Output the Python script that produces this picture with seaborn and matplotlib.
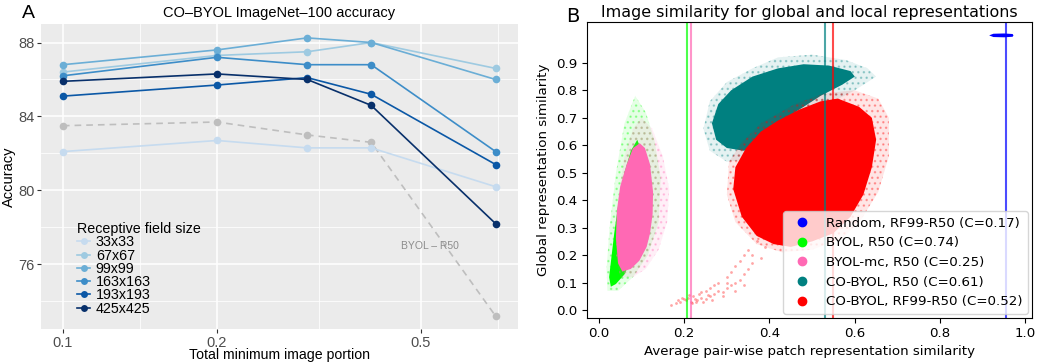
import matplotlib
matplotlib.use("Agg")
import matplotlib.pyplot as plt
from matplotlib.lines import Line2D
from matplotlib.colors import to_rgba
from matplotlib.ticker import FixedLocator, FixedFormatter, NullFormatter
import numpy as np
import pandas as pd
import seaborn as sns

# ---- panel A data ----
portion = [0.1, 0.2, 0.3, 0.4, 0.7]
rf_sizes = ["33x33", "67x67", "99x99", "163x163", "193x193", "425x425"]
acc = {
    "33x33":   [82.1, 82.7, 82.3, 82.3, 80.2],
    "67x67":   [86.4, 87.3, 87.5, 88.0, 86.6],
    "99x99":   [86.8, 87.6, 88.25, 88.0, 86.0],
    "163x163": [86.2, 87.2, 86.8, 86.8, 82.1],
    "193x193": [85.1, 85.7, 86.1, 85.2, 81.4],
    "425x425": [85.9, 86.3, 86.0, 84.6, 78.2],
}
byol_acc = [83.5, 83.7, 83.0, 82.6, 73.2]
blues = ["#c6dbef", "#9ecae1", "#6baed6", "#3d8dc8", "#0b58a6", "#08306b"]

# ---- panel B data: cloud outlines (x, y) ----
green_halo_x = [0.085, 0.11, 0.13, 0.145, 0.14, 0.115, 0.08, 0.045, 0.02, 0.018, 0.025, 0.04, 0.06]
green_halo_y = [0.78, 0.72, 0.62, 0.48, 0.32, 0.2, 0.12, 0.07, 0.07, 0.15, 0.3, 0.5, 0.68]
green_core_x = [0.09, 0.10, 0.11, 0.10, 0.08, 0.06, 0.04, 0.028, 0.024, 0.030, 0.036, 0.045, 0.06, 0.075]
green_core_y = [0.62, 0.58, 0.45, 0.30, 0.20, 0.13, 0.095, 0.085, 0.12, 0.20, 0.28, 0.38, 0.50, 0.58]
pink_halo_x = [0.1, 0.125, 0.15, 0.165, 0.16, 0.14, 0.11, 0.08, 0.05, 0.04, 0.045, 0.06, 0.08]
pink_halo_y = [0.7, 0.66, 0.56, 0.44, 0.32, 0.22, 0.15, 0.12, 0.12, 0.2, 0.4, 0.56, 0.66]
pink_core_x = [0.096, 0.108, 0.12, 0.127, 0.126, 0.12, 0.112, 0.095, 0.075, 0.055, 0.045, 0.040, 0.042, 0.05, 0.065, 0.08]
pink_core_y = [0.607, 0.59, 0.53, 0.43, 0.35, 0.28, 0.23, 0.18, 0.15, 0.14, 0.17, 0.26, 0.36, 0.45, 0.53, 0.59]
teal_halo_x = [0.245, 0.26, 0.30, 0.36, 0.42, 0.50, 0.58, 0.63, 0.65, 0.60, 0.50, 0.42, 0.36, 0.30, 0.26]
teal_halo_y = [0.66, 0.76, 0.83, 0.88, 0.92, 0.93, 0.91, 0.88, 0.85, 0.80, 0.72, 0.60, 0.55, 0.54, 0.58]
teal_core_x = [0.265, 0.28, 0.31, 0.36, 0.42, 0.48, 0.54, 0.59, 0.60, 0.57, 0.52, 0.46, 0.42, 0.38, 0.34, 0.30, 0.275]
teal_core_y = [0.68, 0.75, 0.80, 0.85, 0.88, 0.895, 0.89, 0.87, 0.85, 0.82, 0.78, 0.72, 0.66, 0.60, 0.58, 0.59, 0.62]
red_halo_x = [0.30, 0.305, 0.335, 0.38, 0.46, 0.53, 0.60, 0.655, 0.68, 0.68, 0.655, 0.615, 0.57, 0.50, 0.43, 0.37, 0.32]
red_halo_y = [0.42, 0.54, 0.61, 0.68, 0.75, 0.79, 0.80, 0.77, 0.70, 0.56, 0.43, 0.33, 0.26, 0.22, 0.21, 0.24, 0.32]
red_core_x = [0.315, 0.32, 0.345, 0.38, 0.42, 0.47, 0.52, 0.56, 0.61, 0.64, 0.65, 0.64, 0.62, 0.59, 0.55, 0.50, 0.45, 0.41, 0.37, 0.335]
red_core_y = [0.44, 0.52, 0.59, 0.65, 0.69, 0.73, 0.76, 0.77, 0.74, 0.70, 0.62, 0.52, 0.42, 0.34, 0.28, 0.25, 0.23, 0.24, 0.27, 0.34]
red_tail_x = [0.17, 0.18, 0.19, 0.20, 0.205, 0.21, 0.215, 0.22, 0.225, 0.23, 0.24, 0.25, 0.26, 0.27, 0.28, 0.29, 0.30, 0.31,
              0.32, 0.33, 0.34, 0.35, 0.36, 0.30, 0.32, 0.34, 0.28, 0.31, 0.25, 0.35, 0.33, 0.37, 0.36, 0.29, 0.27,
              0.195, 0.212, 0.228, 0.235, 0.245, 0.255, 0.265, 0.185, 0.218, 0.24, 0.26, 0.3, 0.32, 0.34, 0.38, 0.39]
red_tail_y = [0.02, 0.025, 0.03, 0.04, 0.035, 0.045, 0.03, 0.05, 0.04, 0.035, 0.045, 0.04, 0.05, 0.06, 0.07, 0.065, 0.08, 0.09,
              0.10, 0.11, 0.13, 0.15, 0.17, 0.12, 0.16, 0.20, 0.10, 0.14, 0.07, 0.22, 0.18, 0.25, 0.20, 0.05, 0.09,
              0.045, 0.055, 0.03, 0.06, 0.03, 0.055, 0.035, 0.035, 0.025, 0.065, 0.08, 0.1, 0.07, 0.09, 0.19, 0.23]
random_x = [0.915, 0.925, 0.95, 0.97, 0.972, 0.97, 0.95, 0.925]
random_y = [1.0, 1.006, 1.007, 1.005, 1.0, 0.995, 0.993, 0.994]

models = ["Random, RF99-R50 (C=0.17)", "BYOL, R50 (C=0.74)", "BYOL-mc, R50 (C=0.25)",
          "CO-BYOL, R50 (C=0.61)", "CO-BYOL, RF99-R50 (C=0.52)"]
model_colors = ["#0000ff", "#00ff00", "#ff69b4", "#008080", "#ff0000"]
patch_means = [0.955, 0.207, 0.215, 0.529, 0.548]

plt.rcParams["hatch.linewidth"] = 1.0
fig = plt.figure(figsize=(10.37, 3.64), dpi=100)

# ================= panel A (ggplot look) =================
axA = fig.add_axes([0.0395, 0.095, 0.46, 0.839])
axA.set_facecolor("#ebebeb")
for s in axA.spines.values():
    s.set_visible(False)

rows = []
for rf in rf_sizes:
    for p, a in zip(portion, acc[rf]):
        rows.append({"portion": p, "acc": a, "rf": rf})
df = pd.DataFrame(rows)
df_byol = pd.DataFrame({"portion": portion, "acc": byol_acc})

sns.lineplot(data=df_byol, x="portion", y="acc", color="#bebebe", linestyle=(0, (4, 3)),
             marker="o", markersize=5.5, markeredgewidth=0, linewidth=1.2, ax=axA, zorder=3)
sns.lineplot(data=df, x="portion", y="acc", hue="rf", hue_order=rf_sizes, palette=blues,
             marker="o", markersize=5.5, markeredgewidth=0, linewidth=1.2, ax=axA, zorder=4)

axA.set_xscale("log")
axA.set_xlim(0.0906, 0.774)
axA.set_ylim(72.48, 89.0)
axA.xaxis.set_major_locator(FixedLocator([0.1, 0.2, 0.5]))
axA.xaxis.set_minor_locator(FixedLocator([0.1414, 0.3162, 0.7071]))
axA.xaxis.set_major_formatter(FixedFormatter(["0.1", "0.2", "0.5"]))
axA.xaxis.set_minor_formatter(NullFormatter())
axA.yaxis.set_major_locator(FixedLocator([76, 80, 84, 88]))
axA.yaxis.set_minor_locator(FixedLocator([74, 78, 82, 86]))
axA.grid(which="major", color="white", linewidth=1.1)
axA.grid(which="minor", color="white", linewidth=0.55)
axA.set_axisbelow(True)
axA.tick_params(which="major", length=3, color="#333333", labelcolor="#4d4d4d",
                labelsize=10.5, pad=1.5)
axA.tick_params(which="minor", length=0)
for lab in axA.get_xticklabels() + axA.get_yticklabels():
    lab.set_family("Liberation Sans")
axA.set_xlabel("Total minimum image portion", family="Liberation Sans", fontsize=10.2)
axA.xaxis.set_label_coords(0.5, -0.062)
axA.set_ylabel("Accuracy", family="Liberation Sans", fontsize=10.5, labelpad=2)
axA.set_title("CO\u2013BYOL ImageNet\u2013100 accuracy", family="Liberation Sans", fontsize=10.5, pad=5)
axA.text(0.52, 77.0, "BYOL \u2013 R50", family="Liberation Sans", fontsize=7.5, color="#8c8c8c",
         ha="center", va="center")

handles = [Line2D([], [], color=c, marker="o", markersize=5, markeredgewidth=0, linewidth=1.2)
           for c in blues]
legA = axA.legend(handles, rf_sizes, title="Receptive field size", loc="lower left",
                  bbox_to_anchor=(0.055, 0.012), frameon=False, handlelength=0.9,
                  handletextpad=0.4, labelspacing=-0.05, borderpad=0.2, alignment="left",
                  prop={"family": "Liberation Sans", "size": 10.3},
                  title_fontproperties={"family": "Liberation Sans", "size": 10.3})
fig.text(0.021, 0.962, "A", fontsize=14, family="Liberation Sans", va="center")

# ================= panel B (matplotlib default look) =================
axB = fig.add_axes([0.566, 0.127, 0.429, 0.812])
fs = 9.6
clouds = [
    (green_halo_x, green_halo_y, green_core_x, green_core_y, "#00ff00"),
    (pink_halo_x, pink_halo_y, pink_core_x, pink_core_y, "#ff69b4"),
    (teal_halo_x, teal_halo_y, teal_core_x, teal_core_y, "#008080"),
    (red_halo_x, red_halo_y, red_core_x, red_core_y, "#ff0000"),
]
for hx, hy, cx, cy, c in clouds:
    # sparse fringe: faint fill with a dotted hatch, then the dense core
    axB.fill(hx, hy, facecolor=to_rgba(c, 0.1), edgecolor=to_rgba(c, 0.3),
             hatch="...", linewidth=0)
    axB.fill(cx, cy, color=c, linewidth=0)
axB.fill(random_x, random_y, color="#0000ff", linewidth=0)
sns.scatterplot(x=red_tail_x, y=red_tail_y, color="#ff0000", alpha=0.35, s=4, linewidth=0, ax=axB)

for m, c in zip(patch_means, model_colors):
    axB.axvline(m, color=c, alpha=0.7, linewidth=1.5)

axB.set_xlim(-0.028, 1.015)
axB.set_ylim(-0.028, 1.048)
axB.set_xticks([0.0, 0.2, 0.4, 0.6, 0.8, 1.0])
axB.set_yticks(np.round(np.arange(0, 1.0, 0.1), 1))
axB.tick_params(labelsize=fs)
axB.set_xlabel("Average pair-wise patch representation similarity", fontsize=fs, labelpad=3)
axB.set_ylabel("Global representation similarity", fontsize=fs, labelpad=4)
axB.set_title("Image similarity for global and local representations", fontsize=11.4, pad=4)

hB = [Line2D([], [], color=c, marker="o", linestyle="", markersize=6) for c in model_colors]
axB.legend(hB, models, loc="lower right", fontsize=fs, borderaxespad=0.3)
fig.text(0.546, 0.955, "B", fontsize=14, va="center")

fig.savefig("out.png", dpi=100)
